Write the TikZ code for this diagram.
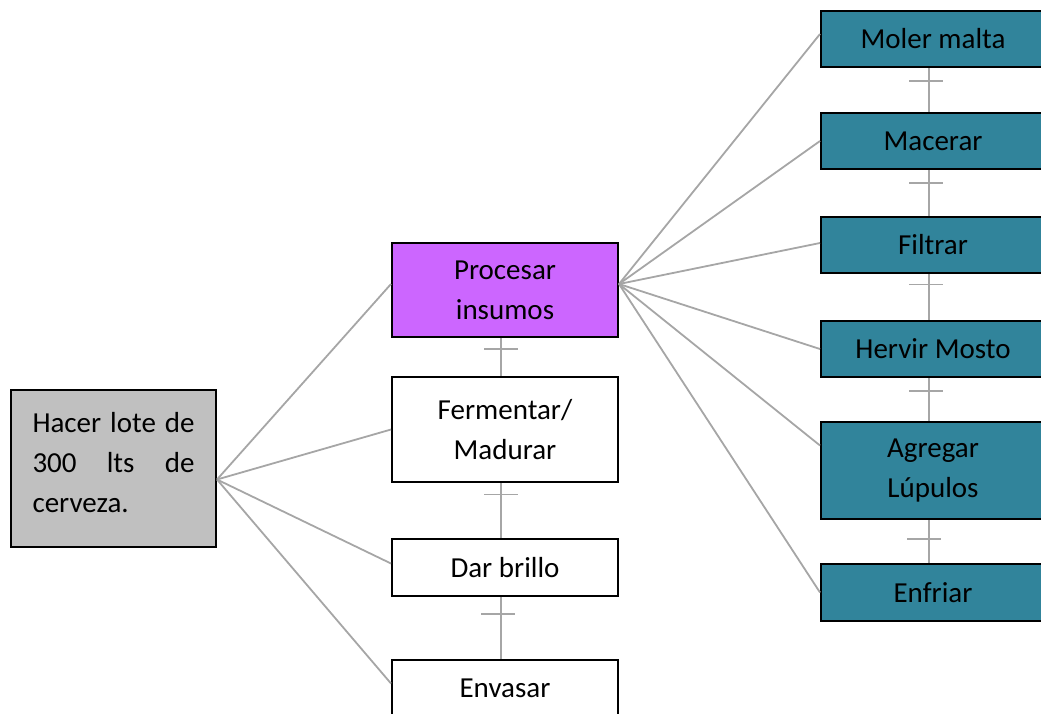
\documentclass[tikz,border=0pt]{standalone}
\usepackage{fontspec}
\setmainfont{Carlito}
\definecolor{boxgray}{HTML}{C0C0C0}
\definecolor{boxviolet}{HTML}{CC66FF}
\definecolor{boxteal}{HTML}{31849B}
\definecolor{linkgray}{HTML}{A6A6A6}
\begin{document}
\begin{tikzpicture}[x=1pt,y=-1pt,
  every node/.style={inner sep=0pt, font=\fontsize{29}{40}\selectfont},
  taskbox/.style={draw=black, line width=2pt, minimum width=226pt, align=center},
  subbox/.style={taskbox, fill=boxteal, minimum width=224pt},
  link/.style={draw=linkgray, line width=1.8pt}
]
\useasboundingbox (0,0) rectangle (1041,713);

% main goal: box and its justified text
\node[draw=black, line width=2pt, fill=boxgray, minimum width=205pt, minimum height=157pt]
  (goal) at (113.5,468.5) {};
\node[text width=162pt, align=left] (goaltxt) at (113.5,463)
  {\makebox[162pt]{Hacer\hfill lote\hfill de}\\\makebox[162pt]{300\hfill lts\hfill de}\\cerveza.};

% main stages
\node[taskbox, fill=boxviolet, minimum height=94pt]  (proc) at (505,290)   {Procesar\\insumos};
\node[taskbox, fill=white, minimum height=105pt]     (ferm) at (505,429.5) {Fermentar/\\Madurar};
\node[taskbox, fill=white, minimum height=57pt]      (brillo) at (505,567.5) {Dar brillo};
\node[taskbox, fill=white, minimum height=57pt]      (env) at (505,688.5)  {Envasar};

% sub-steps of processing
\node[subbox, minimum height=56pt] (moler)   at (933,39)    {Moler malta};
\node[subbox, minimum height=56pt] (macerar) at (933,141)   {Macerar};
\node[subbox, minimum height=56pt] (filtrar) at (933,245)   {Filtrar};
\node[subbox, minimum height=56pt] (hervir)  at (933,349)   {Hervir Mosto};
\node[subbox, minimum height=97pt] (lupulo)  at (933,470.5) {Agregar\\Lúpulos};
\node[subbox, minimum height=57pt] (enfriar) at (933,592.5) {Enfriar};

% fan-out points
\coordinate (gsrc) at ([yshift=-11pt]goal.east);
\coordinate (psrc) at ([yshift=6pt]proc.east);

\draw[link] (gsrc) -- ([yshift=6pt]proc.west);
\draw[link] (gsrc) -- (ferm.west);
\draw[link] (gsrc) -- ([yshift=4pt]brillo.west);
\draw[link] (gsrc) -- ([yshift=5pt]env.west);

\draw[link] (psrc) -- ([yshift=5pt]moler.west);
\draw[link] (psrc) -- (macerar.west);
\draw[link] (psrc) -- ([yshift=2pt]filtrar.west);
\draw[link] (psrc) -- (hervir.west);
\draw[link] (psrc) -- ([yshift=25pt]lupulo.west);
\draw[link] (psrc) -- (enfriar.west);

% sequence links, each with a single tick
\foreach \a/\b/\p/\dx in {proc/ferm/0.28/0, ferm/brillo/0.21/0, brillo/env/0.28/-3,
                          moler/macerar/0.30/-3, macerar/filtrar/0.29/-3, filtrar/hervir/0.23/-3,
                          hervir/lupulo/0.31/-3, lupulo/enfriar/0.44/-5}{
  \draw[link] ([xshift=-4pt]\a.south) -- ([xshift=-4pt]\b.north)
    coordinate[pos=\p] (t-\a);
  \draw[link] ([xshift={\dx*1pt-17pt}]t-\a) -- ([xshift={\dx*1pt+17pt}]t-\a);
}
\end{tikzpicture}
\end{document}
